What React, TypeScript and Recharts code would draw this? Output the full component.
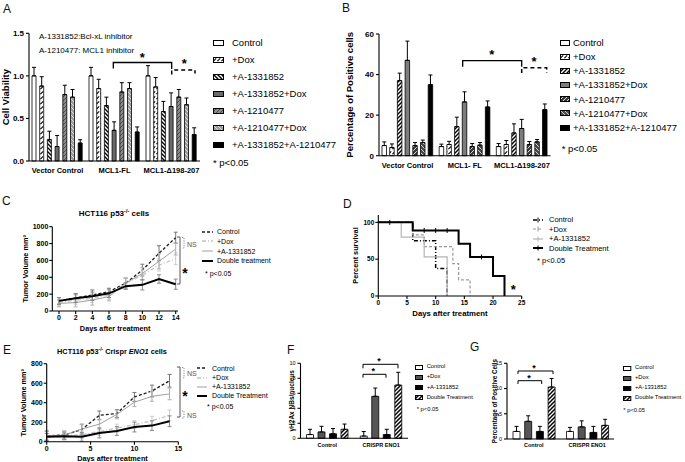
import React from 'react';
import { BarChart, Bar, LineChart, Line, XAxis, YAxis, ErrorBar, Legend } from 'recharts';

const FONT = "'Liberation Sans', Arial, Helvetica, sans-serif";

// ---------- A / B : cell lines ----------
const cellLinesA = ['Vector Control', 'MCL1-FL', 'MCL1-Δ198-207'];
const cellLinesB = ['Vector Control', 'MCL1- FL', 'MCL1-Δ198-207'];
const treatmentsAB = ['Control', '+Dox', '+A-1331852', '+A-1331852+Dox', '+A-1210477', '+A-1210477+Dox', '+A-1331852+A-1210477'];

// one row per treatment, one value per cell line
const viabilityMean = [
  [1.0, 1.0, 1.0],
  [0.88, 0.85, 0.87],
  [0.25, 0.65, 0.58],
  [0.17, 0.36, 0.64],
  [0.78, 0.81, 0.75],
  [0.75, 0.85, 0.66],
  [0.21, 0.34, 0.31],
];
const viabilitySem = [
  [0.1, 0.1, 0.12],
  [0.11, 0.11, 0.11],
  [0.1, 0.1, 0.12],
  [0.13, 0.1, 0.16],
  [0.11, 0.11, 0.09],
  [0.09, 0.07, 0.08],
  [0.04, 0.06, 0.08],
];
const positiveMean = [
  [5, 4.5, 4.5],
  [4, 5.5, 5.5],
  [37, 14.3, 11.2],
  [47, 26.5, 13.4],
  [5, 4.5, 5.5],
  [6.5, 5.2, 6.8],
  [35, 24, 22.7],
];
const positiveSem = [
  [1.8, 1.2, 1.5],
  [1.8, 1.6, 2],
  [3.7, 4.7, 4.5],
  [9.5, 5, 4.5],
  [1.5, 1.5, 1.5],
  [1.2, 1.3, 1.2],
  [4.8, 3, 2.8],
];

// ---------- C / E : tumour volume ----------
const daysC = [0, 2, 4, 6, 8, 10, 12, 14];
const tumorNamesC = ['Control', '+Dox', '+A-1331852', 'Double treatment'];
const tumorC = [
  [120, 155, 190, 230, 330, 485, 685, 870],
  [100, 130, 150, 190, 330, 425, 545, 620],
  [90, 100, 130, 170, 330, 445, 590, 735],
  [120, 150, 175, 210, 295, 310, 380, 318],
];
const tumorSemC = [
  [40, 50, 60, 40, 60, 70, 90, 65],
  [40, 50, 50, 50, 60, 60, 70, 70],
  [40, 50, 60, 50, 60, 70, 90, 70],
  [40, 50, 50, 50, 40, 60, 50, 60],
];

const daysE = [0, 2, 4, 6, 8, 10, 12, 14];
const tumorNamesE = ['Control', '+Dox', '+A-1331852', 'Double Treatment'];
const tumorE = [
  [60, 68, 125, 270, 290, 460, 520, 625],
  [45, 60, 70, 105, 140, 175, 215, 270],
  [60, 68, 130, 180, 280, 405, 465, 490],
  [50, 55, 50, 90, 110, 150, 165, 210],
];
const tumorSemE = [
  [50, 40, 55, 45, 40, 45, 60, 65],
  [40, 35, 40, 40, 40, 40, 45, 55],
  [45, 40, 45, 50, 45, 45, 50, 60],
  [35, 35, 45, 50, 45, 50, 50, 55],
];

// ---------- D : survival ----------
const survNames = ['Control', '+Dox', '+A-1331852', 'Double Treatment'];
const survDays = [
  [0, 6, 10, 12],
  [0, 6, 8, 13, 14, 16],
  [0, 4, 8, 12],
  [0, 2, 6, 8, 10, 12, 14, 16, 18, 20, 22],
];
const survPct = [
  [100, 75, 37.5, 0],
  [100, 83, 67, 44, 22, 0],
  [100, 80, 53, 0],
  [100, 100, 89, 89, 89, 89, 71, 53, 53, 27, 0],
];
const survCensored = [
  [0, 0, 0, 0],
  [0, 0, 0, 0, 0, 0],
  [0, 0, 0, 0],
  [0, 1, 0, 1, 1, 1, 0, 0, 1, 0, 0],
];

// ---------- F / G ----------
const groupsFG = ['Control', 'CRISPR ENO1'];
const treatmentsFG = ['Control', '+Dox', '+A-1331852', 'Double Treatment'];
const fociMean = [[0.5, 0.3], [0.85, 5.6], [0.6, 0.5], [1.2, 7.1]];
const fociSem = [[0.7, 0.6], [0.75, 1.1], [0.7, 0.7], [0.7, 1.7]];
const posCellsMean = [[1.5, 1.5], [3.5, 2.4], [1.5, 1.3], [10.3, 2.7]];
const posCellsSem = [[1.0, 0.8], [1.1, 1.2], [1.0, 1.2], [1.7, 1.2]];

// ---------- row builders ----------
const barRows = (groups: string[], mean: number[][], sem: number[][]) =>
  groups.map((g, gi) => {
    const row: Record<string, any> = { group: g };
    mean.forEach((m, si) => {
      row[`v${si}`] = m[gi];
      row[`e${si}`] = [0, sem[si][gi]];
    });
    return row;
  });

const lineRows = (days: number[], vals: number[][], sem: number[][]) =>
  days.map((d, i) => {
    const row: Record<string, any> = { day: d };
    vals.forEach((v, si) => {
      row[`v${si}`] = v[i];
      row[`e${si}`] = sem[si][i];
    });
    return row;
  });

const survRows = survDays.map((ds, si) => ds.map((t, i) => ({ t, s: survPct[si][i], c: survCensored[si][i] })));

// ---------- styles ----------
const fillsA = ['#fff', 'url(#pA1)', 'url(#pA2)', '#6a6a6a', 'url(#pA4)', 'url(#pA5)', '#000'];
const fillsB = ['#fff', 'url(#pA1)', 'url(#pB2)', '#7d7d7d', 'url(#pB4)', 'url(#pB5)', '#000'];
const fillsFG = ['#fff', '#555', '#000', 'url(#pF3)'];

const tumorStyle = [
  { stroke: '#1a1a1a', dash: '3 2', w: 1.3, err: '#777' },
  { stroke: '#c2c2c2', dash: '4 2 1 2', w: 1.3, err: '#cfcfcf' },
  { stroke: '#a0a0a0', dash: undefined, w: 1, err: '#b0b0b0' },
  { stroke: '#000', dash: undefined, w: 2, err: '#8a8a8a' },
];
const survStyle = [
  { stroke: '#000', dash: '4 2 1 2', w: 1.5 },
  { stroke: '#9a9a9a', dash: '3 2', w: 1.2 },
  { stroke: '#b5b5b5', dash: undefined, w: 1.2 },
  { stroke: '#000', dash: undefined, w: 2 },
];

const ax = { stroke: '#000', strokeWidth: 1.1 };

type LegendCfg = {
  left: number; top: number; width: number; rowH: number; font: number;
  swW: number; swH: number; gap: number; noteGap: number; noteX: number;
};

function KeyList({ lg, names, swatch }: { lg: LegendCfg; names: string[]; swatch: (i: number) => React.ReactNode }) {
  return (
    <div style={{ fontFamily: FONT, fontSize: lg.font, color: '#000', lineHeight: 1 }}>
      {names.map((n, i) => (
        <div key={n} style={{ height: lg.rowH, display: 'flex', alignItems: 'center', whiteSpace: 'nowrap' }}>
          <svg width={lg.swW} height={lg.swH} style={{ flex: 'none', marginRight: lg.gap, overflow: 'visible' }}>
            {swatch(i)}
          </svg>
          {n}
        </div>
      ))}
      <div style={{ height: lg.rowH, marginTop: lg.noteGap, paddingLeft: lg.noteX, display: 'flex', alignItems: 'center', whiteSpace: 'nowrap' }}>
        * p&lt;0.05
      </div>
    </div>
  );
}

function Patterns() {
  const diag = 'M-1,1 L1,-1 M0,4 L4,0 M3,5 L5,3';
  const back = 'M-1,3 L1,5 M0,0 L4,4 M3,-1 L5,1';
  return (
    <svg width={0} height={0} style={{ position: 'absolute' }}>
      <defs>
        <pattern id="pA1" patternUnits="userSpaceOnUse" width={4} height={5}>
          <rect width={4} height={5} fill="#fff" />
          <path d="M0.4,4.2 L3.2,1.3" stroke="#000" strokeWidth={1.1} />
        </pattern>
        <pattern id="pA2" patternUnits="userSpaceOnUse" width={4} height={4}>
          <rect width={4} height={4} fill="#fff" />
          <path d={back} stroke="#000" strokeWidth={1.4} />
        </pattern>
        <pattern id="pA4" patternUnits="userSpaceOnUse" width={4} height={4}>
          <rect width={4} height={4} fill="#8a8a8a" />
          <path d={diag} stroke="#4a4a4a" strokeWidth={0.9} />
        </pattern>
        <pattern id="pA5" patternUnits="userSpaceOnUse" width={4} height={4}>
          <rect width={4} height={4} fill="#9c9c9c" />
          <path d={back} stroke="#e2e2e2" strokeWidth={0.9} />
        </pattern>
        <pattern id="pB2" patternUnits="userSpaceOnUse" width={4} height={4}>
          <rect width={4} height={4} fill="#fff" />
          <path d={diag} stroke="#000" strokeWidth={1.4} />
        </pattern>
        <pattern id="pB4" patternUnits="userSpaceOnUse" width={4} height={4}>
          <rect width={4} height={4} fill="#3a3a3a" />
          <path d={diag} stroke="#d8d8d8" strokeWidth={1} />
        </pattern>
        <pattern id="pB5" patternUnits="userSpaceOnUse" width={4} height={4}>
          <rect width={4} height={4} fill="#4a4a4a" />
          <path d={back} stroke="#cfcfcf" strokeWidth={1} />
        </pattern>
        <pattern id="pF3" patternUnits="userSpaceOnUse" width={4} height={4}>
          <rect width={4} height={4} fill="#fff" />
          <path d={diag} stroke="#000" strokeWidth={1.5} />
        </pattern>
      </defs>
    </svg>
  );
}

type BarPanelProps = {
  box: { left: number; top: number; width: number; height: number };
  margin: { top: number; right: number; bottom: number; left: number };
  rows: Record<string, any>[];
  names: string[];
  fills: string[];
  yW: number; xH: number;
  domain: [number, number]; ticks: number[]; fmt?: (v: number) => string;
  yLabel: string; yLabelX: number; yLabelSize: number;
  tickFont: number; tickBold: boolean; catFont: number; catGap: number;
  barSize: number; barGap: number; errW: number;
  lg: LegendCfg;
};

function BarPanel(p: BarPanelProps) {
  const tick = { fontSize: p.tickFont, fontWeight: p.tickBold ? 700 : 400, fill: '#000' };
  return (
    <div style={{ position: 'absolute', left: p.box.left, top: p.box.top }}>
      <BarChart width={p.box.width} height={p.box.height} data={p.rows} margin={p.margin} barSize={p.barSize} barGap={p.barGap}>
        <XAxis dataKey="group" type="category" interval={0} tickLine={false} tickSize={3} tickMargin={p.catGap}
          height={p.xH} axisLine={ax} tick={{ fontSize: p.catFont, fontWeight: 700, fill: '#000' }} />
        <YAxis width={p.yW} domain={p.domain} ticks={p.ticks} interval={0} tickFormatter={p.fmt} tickSize={3} tickMargin={2}
          axisLine={ax} tickLine={ax} tick={tick}
          label={{ value: p.yLabel, angle: -90, position: 'insideLeft', offset: p.yLabelX,
            style: { textAnchor: 'middle', fontSize: p.yLabelSize, fontWeight: 700, fill: '#000' } }} />
        {p.names.map((n, i) => (
          <Bar key={n} dataKey={`v${i}`} name={n} fill={p.fills[i]} stroke="#000" strokeWidth={0.8} isAnimationActive={false}>
            <ErrorBar dataKey={`e${i}`} width={p.errW} stroke="#000" strokeWidth={1} direction="y" />
          </Bar>
        ))}
        <Legend layout="vertical" align="center" verticalAlign="middle"
          wrapperStyle={{ left: p.lg.left, top: p.lg.top, width: p.lg.width }}
          content={() => (
            <KeyList lg={p.lg} names={p.names} swatch={(i) => (
              <rect x={0.5} y={0.5} width={p.lg.swW - 1} height={p.lg.swH - 1} fill={p.fills[i]} stroke="#000" strokeWidth={1} />
            )} />
          )} />
      </BarChart>
    </div>
  );
}

type TumorProps = {
  box: { left: number; top: number; width: number; height: number };
  margin: { top: number; right: number; bottom: number; left: number };
  rows: Record<string, any>[];
  names: string[];
  yW: number; xH: number;
  xDomain: [number, number]; xTicks: number[]; xPad: { left: number; right: number };
  yDomain: [number, number]; yTicks: number[];
  yLabelX: number; xLabelOff: number;
  lg: LegendCfg;
};

function TumorPanel(p: TumorProps) {
  const tick = { fontSize: 7, fontWeight: 700, fill: '#000' };
  return (
    <div style={{ position: 'absolute', left: p.box.left, top: p.box.top }}>
      <LineChart width={p.box.width} height={p.box.height} data={p.rows} margin={p.margin}>
        <XAxis dataKey="day" type="number" domain={p.xDomain} ticks={p.xTicks} interval={0} padding={p.xPad}
          height={p.xH} tickSize={3} tickMargin={1} axisLine={ax} tickLine={ax} tick={tick}
          label={{ value: 'Days after treatment', position: 'insideBottom', offset: p.xLabelOff,
            style: { fontSize: 7.3, fontWeight: 700, fill: '#000' } }} />
        <YAxis type="number" domain={p.yDomain} ticks={p.yTicks} interval={0} width={p.yW} tickSize={3} tickMargin={1}
          axisLine={ax} tickLine={ax} tick={tick}
          label={{ value: 'Tumor Volume mm³', angle: -90, position: 'insideLeft', offset: p.yLabelX,
            style: { textAnchor: 'middle', fontSize: 7.3, fontWeight: 700, fill: '#000' } }} />
        {p.names.map((n, i) => (
          <Line key={n} dataKey={`v${i}`} name={n} type="linear" stroke={tumorStyle[i].stroke}
            strokeDasharray={tumorStyle[i].dash} strokeWidth={tumorStyle[i].w} dot={false} isAnimationActive={false}>
            <ErrorBar dataKey={`e${i}`} width={2} stroke={tumorStyle[i].err} strokeWidth={1} direction="y" />
          </Line>
        ))}
        <Legend layout="vertical" align="center" verticalAlign="middle"
          wrapperStyle={{ left: p.lg.left, top: p.lg.top, width: p.lg.width }}
          content={() => (
            <KeyList lg={p.lg} names={p.names} swatch={(i) => (
              <line x1={0} x2={p.lg.swW} y1={p.lg.swH / 2} y2={p.lg.swH / 2} stroke={tumorStyle[i].stroke}
                strokeDasharray={tumorStyle[i].dash} strokeWidth={tumorStyle[i].w} />
            )} />
          )} />
      </LineChart>
    </div>
  );
}

function SurvivalPanel() {
  const tick = { fontSize: 6.5, fontWeight: 700, fill: '#000' };
  const lg: LegendCfg = { left: 188, top: 15.3, width: 150, rowH: 9.43, font: 7.5, swW: 10, swH: 6, gap: 6, noteGap: 3, noteX: 4 };
  return (
    <div style={{ position: 'absolute', left: 345, top: 200 }}>
      <LineChart width={340} height={120} margin={{ top: 15, right: 163.3, bottom: 0, left: 0 }}>
        <XAxis dataKey="t" type="number" domain={[0, 25]} ticks={[0, 5, 10, 15, 20, 25]} interval={0}
          height={24} tickSize={3} tickMargin={1} axisLine={ax} tickLine={ax} tick={tick}
          label={{ value: 'Days after treatment', position: 'insideBottom', offset: 4,
            style: { fontSize: 7.8, fontWeight: 700, fill: '#000' } }} />
        <YAxis type="number" domain={[0, 110]} ticks={[0, 50, 100]} interval={0} width={33.3} tickSize={3} tickMargin={1}
          axisLine={ax} tickLine={ax} tick={tick}
          label={{ value: 'Percent survival', angle: -90, position: 'insideLeft', offset: 10,
            style: { textAnchor: 'middle', fontSize: 7.3, fontWeight: 700, fill: '#000' } }} />
        {survNames.map((n, i) => (
          <Line key={n} data={survRows[i]} dataKey="s" name={n} type="stepAfter" stroke={survStyle[i].stroke}
            strokeDasharray={survStyle[i].dash} strokeWidth={survStyle[i].w} isAnimationActive={false}
            dot={(d: any) =>
              d.payload && d.payload.c ? (
                <line key={`c${i}-${d.index}`} x1={d.cx} x2={d.cx} y1={d.cy - 2.5} y2={d.cy + 2.5} stroke={survStyle[i].stroke} strokeWidth={1} />
              ) : (
                <g key={`c${i}-${d.index}`} />
              )
            } />
        ))}
        <Legend layout="vertical" align="center" verticalAlign="middle"
          wrapperStyle={{ left: lg.left, top: lg.top, width: lg.width }}
          content={() => (
            <KeyList lg={lg} names={survNames} swatch={(i) => (
              <g>
                <line x1={0} x2={lg.swW} y1={lg.swH / 2} y2={lg.swH / 2} stroke={survStyle[i].stroke}
                  strokeDasharray={survStyle[i].dash} strokeWidth={survStyle[i].w} />
                <line x1={lg.swW / 2} x2={lg.swW / 2} y1={0.5} y2={lg.swH - 0.5} stroke={survStyle[i].stroke} strokeWidth={1} />
              </g>
            )} />
          )} />
      </LineChart>
    </div>
  );
}

function Star({ x, y, size }: { x: number; y: number; size: number }) {
  return (
    <text x={x} y={y + size * 0.57} textAnchor="middle" fontSize={size} fontWeight={700} fill="#000" fontFamily={FONT}>*</text>
  );
}

function Notes() {
  const br = { fill: 'none', stroke: '#000', strokeWidth: 1.3 };
  const gr = { fill: 'none', stroke: '#555', strokeWidth: 1 };
  const ns = { fill: 'none', stroke: '#8a8a8a', strokeWidth: 1, strokeDasharray: '1.2 1.2' };
  const letter = { fontSize: 12, fill: '#111', fontFamily: FONT };
  return (
    <svg width={685} height={462} style={{ position: 'absolute', left: 0, top: 0, pointerEvents: 'none' }}>
      <text x={3} y={12.5} {...letter}>A</text>
      <text x={342} y={12} {...letter}>B</text>
      <text x={2} y={205} {...letter}>C</text>
      <text x={343} y={207.5} {...letter}>D</text>
      <text x={3} y={354} {...letter}>E</text>
      <text x={287} y={354} {...letter}>F</text>
      <text x={470} y={351} {...letter}>G</text>

      {/* A */}
      <text x={39} y={39} fontSize={8} fontFamily={FONT} fill="#000">A-1331852:Bcl-xL inhibitor</text>
      <text x={39} y={53} fontSize={8} fontFamily={FONT} fill="#000">A-1210477: MCL1 inhibitor</text>
      <path d="M113.3,68.5 V62.5 H171.7 V69" {...br} />
      <Star x={142.3} y={54.3} size={13} />
      <path d="M171.7,74.5 V70 H195 V73.5" {...br} strokeWidth={1.5} strokeDasharray="4 3" />
      <Star x={184.3} y={61} size={13} />

      {/* B */}
      <path d="M462.7,66.7 V60.7 H521.7 V66.7" {...br} />
      <Star x={491.7} y={51.7} size={13} />
      <path d="M521.7,73 V67.7 H546.7 V73" {...br} strokeWidth={1.5} strokeDasharray="4 3" />
      <Star x={534} y={59} size={13} />

      {/* C */}
      <text x={114} y={216} textAnchor="middle" fontSize={8} fontWeight={700} fontFamily={FONT} fill="#000">
        HCT116 p53<tspan fontSize={5.5} dy={-3.5}>-/-</tspan><tspan dy={3.5}> cells</tspan>
      </text>
      <path d="M177,237 H180 V284 H177" {...gr} />
      <Star x={185} y={270} size={14} />
      <path d="M182,237.5 H184 V248 H182" {...ns} />
      <text x={187} y={246.5} fontSize={7} fontFamily={FONT} fill="#555">NS</text>

      {/* D */}
      <Star x={513.3} y={286.7} size={13} />

      {/* E */}
      <text x={112} y={354} textAnchor="middle" fontSize={7.3} fontWeight={700} fontFamily={FONT} fill="#000">
        HCT116 p53<tspan fontSize={5} dy={-3.2}>-/-</tspan><tspan dy={3.2}> Crispr </tspan>
        <tspan fontStyle="italic">ENO1</tspan> cells
      </text>
      <path d="M177,367 H180 V417 H177" {...gr} />
      <Star x={185} y={393} size={14} />
      <path d="M182,367.5 H184 V378 H182" {...ns} />
      <text x={187} y={375.5} fontSize={7} fontFamily={FONT} fill="#555">NS</text>
      <path d="M182,411 H184 V418 H182" {...ns} />
      <text x={187} y={417.5} fontSize={7} fontFamily={FONT} fill="#555">NS</text>

      {/* F */}
      <path d="M363,368.3 V364.3 H398 V368.3" {...br} strokeWidth={1} />
      <Star x={379} y={358.5} size={9} />
      <path d="M363,377.7 V374.3 H386 V377.7" {...br} strokeWidth={1} />
      <Star x={373.3} y={368.8} size={9} />

      {/* G */}
      <path d="M518,374 V371 H553 V374" {...br} strokeWidth={1} />
      <Star x={534} y={366} size={9} />
      <path d="M518,384 V380.7 H541.7 V384" {...br} strokeWidth={1} />
      <Star x={529} y={375.7} size={9} />
    </svg>
  );
}

export default function App() {
  const one = (v: number) => v.toFixed(1);
  return (
    <div style={{ position: 'absolute', left: 0, top: 0, width: 685, height: 462, background: '#fff', overflow: 'hidden', fontFamily: FONT }}>
      <Patterns />

      <BarPanel
        box={{ left: 0, top: 20, width: 340, height: 165 }}
        margin={{ top: 13.3, right: 140, bottom: 4, left: 0 }}
        rows={barRows(cellLinesA, viabilityMean, viabilitySem)}
        names={treatmentsAB} fills={fillsA}
        yW={29} xH={20} domain={[0, 1.5]} ticks={[0, 0.5, 1.0, 1.5]} fmt={one}
        yLabel="Cell Viability" yLabelX={6} yLabelSize={9.5}
        tickFont={8} tickBold catFont={7.5} catGap={4}
        barSize={4} barGap={3.7} errW={2}
        lg={{ left: 213, top: 14.2, width: 127, rowH: 17, font: 9.5, swW: 11, swH: 6, gap: 8, noteGap: 1.3, noteX: 0 }}
      />

      <BarPanel
        box={{ left: 340, top: 20, width: 345, height: 165 }}
        margin={{ top: 14, right: 134.5, bottom: 9.3, left: 0 }}
        rows={barRows(cellLinesB, positiveMean, positiveSem)}
        names={treatmentsAB} fills={fillsB}
        yW={39} xH={20} domain={[0, 60]} ticks={[0, 20, 40, 60]}
        yLabel="Percentage of Positive cells" yLabelX={10} yLabelSize={9.5}
        tickFont={8} tickBold catFont={7.5} catGap={3.5}
        barSize={4.5} barGap={3.2} errW={2}
        lg={{ left: 220, top: 15.6, width: 125, rowH: 14.17, font: 9.5, swW: 10, swH: 6, gap: 3, noteGap: 7.4, noteX: 1.7 }}
      />

      <TumorPanel
        box={{ left: 0, top: 200, width: 340, height: 135 }}
        margin={{ top: 26.7, right: 162, bottom: 0, left: 0 }}
        rows={lineRows(daysC, tumorC, tumorSemC)} names={tumorNamesC}
        yW={52.3} xH={24} xDomain={[0, 14]} xTicks={[0, 2, 4, 6, 8, 10, 12, 14]} xPad={{ left: 6.7, right: 2.3 }}
        yDomain={[0, 1000]} yTicks={[0, 200, 400, 600, 800, 1000]} yLabelX={25} xLabelOff={3.7}
        lg={{ left: 202, top: 26.8, width: 130, rowH: 9.77, font: 7, swW: 11, swH: 6, gap: 4, noteGap: 3.2, noteX: 3 }}
      />

      <SurvivalPanel />

      <TumorPanel
        box={{ left: 0, top: 345, width: 340, height: 117 }}
        margin={{ top: 18.7, right: 161.7, bottom: 0, left: 0 }}
        rows={lineRows(daysE, tumorE, tumorSemE)} names={tumorNamesE}
        yW={46.7} xH={20.3} xDomain={[0, 15]} xTicks={[0, 5, 10, 15]} xPad={{ left: 0, right: 0 }}
        yDomain={[0, 800]} yTicks={[0, 200, 400, 600, 800]} yLabelX={23} xLabelOff={1.3}
        lg={{ left: 197, top: 18.7, width: 130, rowH: 9.23, font: 7, swW: 10, swH: 6, gap: 5, noteGap: 1, noteX: 10 }}
      />

      <BarPanel
        box={{ left: 280, top: 350, width: 190, height: 112 }}
        margin={{ top: 13.3, right: 62, bottom: 0, left: 0 }}
        rows={barRows(groupsFG, fociMean, fociSem)}
        names={treatmentsFG} fills={fillsFG}
        yW={20.5} xH={23.7} domain={[0, 10]} ticks={[0, 2, 4, 6, 8, 10]}
        yLabel="γH2Ax NBs/nucleus" yLabelX={12} yLabelSize={6.5}
        tickFont={5.5} tickBold={false} catFont={5.5} catGap={1.5}
        barSize={7} barGap={4.5} errW={2}
        lg={{ left: 135, top: 12.2, width: 60, rowH: 10.13, font: 5.8, swW: 8, swH: 5, gap: 3.7, noteGap: 2, noteX: 1.7 }}
      />

      <BarPanel
        box={{ left: 490, top: 350, width: 195, height: 112 }}
        margin={{ top: 13.3, right: 71, bottom: 0, left: 0 }}
        rows={barRows(groupsFG, posCellsMean, posCellsSem)}
        names={treatmentsFG} fills={fillsFG}
        yW={17} xH={23} domain={[0, 15]} ticks={[0, 5, 10, 15]}
        yLabel="Percentage of Positive Cells" yLabelX={5} yLabelSize={6.3}
        tickFont={5.5} tickBold={false} catFont={5.5} catGap={1.5}
        barSize={7} barGap={4.7} errW={2}
        lg={{ left: 133.3, top: 13.3, width: 62, rowH: 10, font: 5.8, swW: 8.3, swH: 5, gap: 3.4, noteGap: 2.7, noteX: 0 }}
      />

      <Notes />
    </div>
  );
}
